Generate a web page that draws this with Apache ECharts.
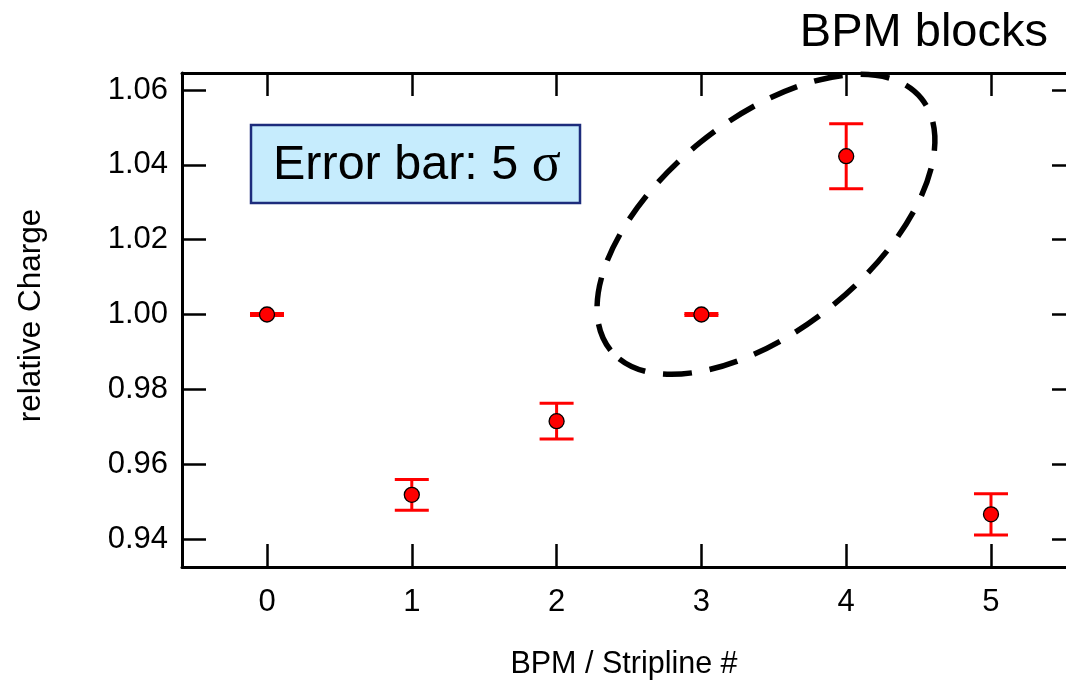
<!DOCTYPE html>
<html>
<head>
<meta charset="utf-8">
<script src="https://cdn.jsdelivr.net/npm/echarts@6/dist/echarts.min.js"></script>
<style>
  html, body { margin: 0; padding: 0; background: #fff; }
  #chart { width: 1066px; height: 680px; }
</style>
</head>
<body>
<div id="chart"></div>
<script>
// BPM / stripline index and relative charge per block
const stripline = [0, 1, 2, 3, 4, 5];
const relCharge = [1.0, 0.9518, 0.9715, 1.0, 1.0423, 0.9466];
// half-length of the 5-sigma error bars
const err5Sigma = [0.0003, 0.0041, 0.0048, 0.0003, 0.0087, 0.0055];
// tick positions
const xTicks = [0, 1, 2, 3, 4, 5];
const yTicks = [0.94, 0.96, 0.98, 1.00, 1.02, 1.04, 1.06];
// centre of the highlighted group (BPM 3 and 4), in data units
const groupCentre = [[3.446, 1.0241]];

const FONT = 'Liberation Sans, Arial, Helvetica, sans-serif';

const points = stripline.map((x, i) => [x, relCharge[i]]);
const bars = stripline.map((x, i) => [x, relCharge[i] - err5Sigma[i], relCharge[i] + err5Sigma[i]]);

const chart = echarts.init(document.getElementById('chart'), null, { renderer: 'canvas' });

const tickStyle = { color: '#000', width: 2.5 };
const frameLine = { show: true, onZero: false, lineStyle: { color: '#000', width: 3 } };

chart.setOption({
  animation: false,
  backgroundColor: '#ffffff',
  title: {
    text: 'BPM blocks',
    right: 13,
    top: 5,
    textStyle: { fontFamily: FONT, fontSize: 47, fontWeight: 'normal', color: '#000' }
  },
  grid: { left: 182, top: 73, right: 0, height: 494, containLabel: false, outerBoundsMode: 'none' },
  xAxis: [
    {
      type: 'value', position: 'bottom',
      min: -0.587, max: 5.518,
      axisLine: frameLine, splitLine: { show: false },
      name: 'BPM / Stripline #', nameLocation: 'middle', nameGap: 82,
      nameTextStyle: { fontFamily: FONT, fontSize: 30.5, color: '#000' },
      axisTick: { show: true, inside: true, length: 23, lineStyle: tickStyle, customValues: xTicks },
      axisLabel: { customValues: xTicks, margin: 20, fontFamily: FONT, fontSize: 31, color: '#000' }
    },
    {
      type: 'value', position: 'top',
      min: -0.587, max: 5.518,
      axisLine: frameLine, splitLine: { show: false },
      axisTick: { show: true, inside: true, length: 23, lineStyle: tickStyle, customValues: xTicks },
      axisLabel: { show: false }
    }
  ],
  yAxis: [
    {
      type: 'value', position: 'left',
      min: 0.93252, max: 1.06454,
      axisLine: frameLine, splitLine: { show: false },
      name: 'relative Charge', nameLocation: 'middle', nameGap: 135, nameRotate: 90,
      nameTextStyle: { fontFamily: FONT, fontSize: 31.5, color: '#000', padding: [0, 0, 0, 9] },
      axisTick: { show: true, inside: true, length: 24, lineStyle: tickStyle, customValues: yTicks },
      axisLabel: {
        customValues: yTicks, margin: 14, fontFamily: FONT, fontSize: 31, color: '#000',
        formatter: v => v.toFixed(2)
      }
    },
    {
      type: 'value', position: 'right',
      min: 0.93252, max: 1.06454,
      axisLine: { show: false, onZero: false }, splitLine: { show: false },
      axisTick: { show: true, inside: true, length: 14, lineStyle: tickStyle, customValues: yTicks },
      axisLabel: { show: false }
    }
  ],
  graphic: [
    {
      type: 'group',
      z: 100,
      children: [
        {
          type: 'rect',
          shape: { x: 251, y: 125, width: 329, height: 78 },
          style: { fill: '#c6ecfd', stroke: '#1d2c7c', lineWidth: 2.5 }
        },
        {
          type: 'text',
          x: 273, y: 166,
          style: {
            text: '{a|Error bar: 5 }{s|σ}',
            verticalAlign: 'middle',
            align: 'left',
            rich: {
              a: { fontFamily: FONT, fontSize: 48.5, fill: '#000' },
              s: { fontFamily: 'Liberation Serif, Times New Roman, serif', fontSize: 54, fill: '#000' }
            }
          }
        }
      ]
    }
  ],
  series: [
    {
      // dashed ellipse around BPM 3 and 4
      type: 'custom',
      xAxisIndex: 0, yAxisIndex: 0,
      clip: false,
      silent: true,
      z: 1,
      data: groupCentre,
      renderItem: (params, api) => {
        const c = api.coord([api.value(0), api.value(1)]);
        return {
          type: 'ellipse',
          x: c[0], y: c[1],
          rotation: 39 * Math.PI / 180,
          shape: { cx: 0, cy: 0, rx: 200, ry: 105 },
          style: { fill: 'none', stroke: '#000', lineWidth: 5.5, lineDash: [29, 18] }
        };
      }
    },
    {
      // 5-sigma error bars with caps
      type: 'custom',
      xAxisIndex: 0, yAxisIndex: 0,
      z: 2,
      data: bars,
      renderItem: (params, api) => {
        const lo = api.coord([api.value(0), api.value(1)]);
        const hi = api.coord([api.value(0), api.value(2)]);
        const hw = 17;
        const st = { stroke: '#ff0000', lineWidth: 3 };
        return {
          type: 'group',
          children: [
            { type: 'line', shape: { x1: lo[0], y1: lo[1], x2: hi[0], y2: hi[1] }, style: st },
            { type: 'line', shape: { x1: lo[0] - hw, y1: lo[1], x2: lo[0] + hw, y2: lo[1] }, style: st },
            { type: 'line', shape: { x1: hi[0] - hw, y1: hi[1], x2: hi[0] + hw, y2: hi[1] }, style: st }
          ]
        };
      }
    },
    {
      type: 'scatter',
      xAxisIndex: 0, yAxisIndex: 0,
      z: 3,
      symbol: 'circle',
      symbolSize: 15,
      itemStyle: { color: '#ff0000', borderColor: '#000', borderWidth: 1.3, opacity: 1 },
      data: points
    }
  ]
});
</script>
</body>
</html>
